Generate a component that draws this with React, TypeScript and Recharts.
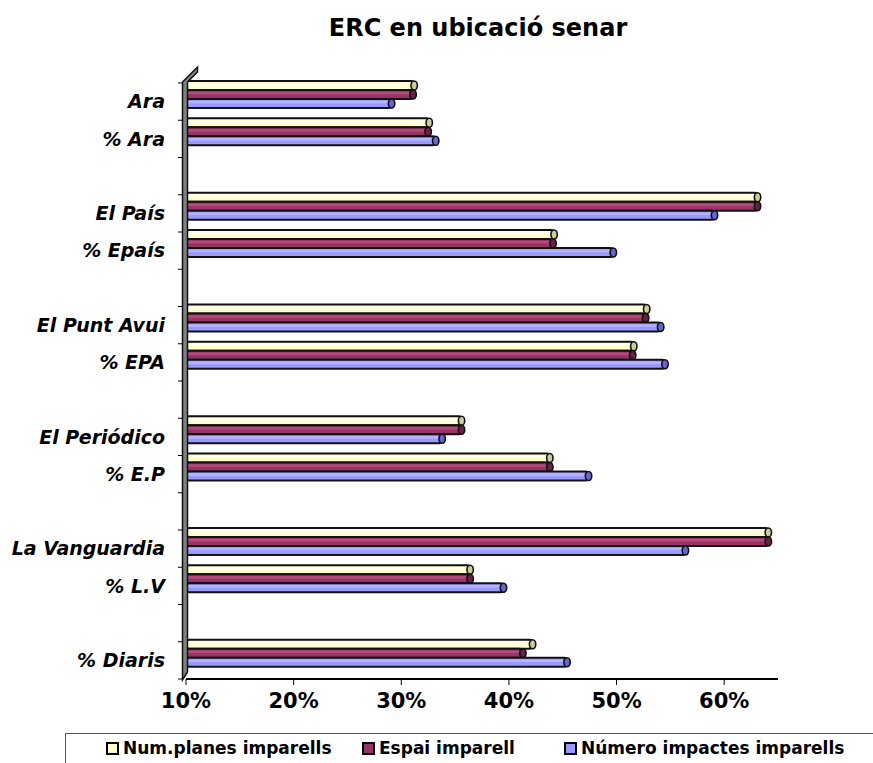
import { BarChart, Bar, XAxis, YAxis } from 'recharts';

const CATEGORIES = [
  'Ara', '% Ara', '',
  'El País', '% Epaís', '',
  'El Punt Avui', '% EPA', '',
  'El Periódico', '% E.P', '',
  'La Vanguardia', '% L.V', '',
  '% Diaris',
];

const NUM_PLANES = [31.2, 32.6, null, 63.1, 44.2, null, 52.8, 51.6, null, 35.6, 43.8, null, 64.1, 36.4, null, 42.2];
const ESPAI = [31.1, 32.5, null, 63.1, 44.1, null, 52.7, 51.5, null, 35.6, 43.8, null, 64.1, 36.4, null, 41.3];
const IMPACTES = [29.1, 33.2, null, 59.1, 49.7, null, 54.1, 54.5, null, 33.8, 47.4, null, 56.4, 39.5, null, 45.4];

const X_TICKS = [10, 20, 30, 40, 50, 60];

const SERIES = [
  { key: 'planes', name: 'Num.planes imparells', fill: '#FFFFCC', light: '#FFFFF2', dark: '#CCCC99', legendX: 40 },
  { key: 'espai', name: 'Espai imparell', fill: '#993366', light: '#B8557F', dark: '#662244', legendX: 296 },
  { key: 'impactes', name: 'Número impactes imparells', fill: '#9999FF', light: '#BBBBFF', dark: '#6666CC', legendX: 498 },
];

const FONT = 'Tahoma, "DejaVu Sans", sans-serif';
const W = 873;
const H = 763;
const M = { top: 83, right: 95, bottom: 34, left: 0 };
const X_AXIS_H = 50;
const Y_AXIS_W = 186;
const PLOT_H = H - M.top - M.bottom - X_AXIS_H;
const BAND = PLOT_H / CATEGORIES.length;

const data = CATEGORIES.map((name, i) => ({
  id: i,
  name,
  planes: NUM_PLANES[i],
  espai: ESPAI[i],
  impactes: IMPACTES[i],
}));

// tube-like bar with an end cap, lifted a bit like the 3D original
const TubeBar = (props: any) => {
  const { x, y, width, height, fill, light, dark } = props;
  if (!width || width <= 0) return null;
  const yy = y - 7;
  const r = height / 2;
  return (
    <g>
      <rect x={x} y={yy} width={width} height={height} rx={3} fill={fill} stroke="#111" strokeWidth={1.8} />
      <rect x={x + 2} y={yy + 1.8} width={Math.max(width - 6, 0)} height={height * 0.28} fill={light} opacity={0.8} />
      <ellipse cx={x + width} cy={yy + r} rx={3.2} ry={r} fill={dark} stroke="#111" strokeWidth={1.6} />
    </g>
  );
};

const CategoryTick = (props: any) => {
  const { x, y, payload } = props;
  const i = payload.value as number;
  const label = CATEGORIES[i];
  return (
    <g>
      <line x1={178} x2={183} y1={y - BAND / 2} y2={y - BAND / 2} stroke="#000" strokeWidth={1} />
      {i === CATEGORIES.length - 1 && (
        <line x1={178} x2={183} y1={y + BAND / 2} y2={y + BAND / 2} stroke="#000" strokeWidth={1} />
      )}
      <text
        x={x - 13}
        y={y}
        dy="0.35em"
        textAnchor="end"
        fontFamily={FONT}
        fontSize={19}
        fontWeight="bold"
        fontStyle="italic"
        fill="#000"
      >
        {label}
      </text>
    </g>
  );
};

export default function App() {
  return (
    <div style={{ position: 'absolute', left: 0, top: 0, width: W, height: H, background: '#fff', overflow: 'hidden' }}>
      <div
        style={{
          position: 'absolute',
          left: 228,
          top: 14,
          width: 500,
          textAlign: 'center',
          fontFamily: FONT,
          fontWeight: 'bold',
          fontSize: 24,
          color: '#000',
        }}
      >
        ERC en ubicació senar
      </div>

      <BarChart
        width={W}
        height={H}
        data={data}
        layout="vertical"
        margin={M}
        barSize={9}
        barGap={0}
      >
        <XAxis
          type="number"
          domain={[10, 65]}
          ticks={X_TICKS}
          allowDataOverflow
          height={X_AXIS_H}
          tickFormatter={(v) => `${v}%`}
          axisLine={{ stroke: '#000', strokeWidth: 2 }}
          tickLine={{ stroke: '#000' }}
          tickSize={6}
          tickMargin={8}
          tick={{ fontFamily: FONT, fontSize: 21, fontWeight: 'bold', fill: '#000' }}
        />
        <YAxis
          type="category"
          dataKey="id"
          width={Y_AXIS_W}
          axisLine={false}
          tickLine={false}
          interval={0}
          tick={<CategoryTick />}
        />
        {SERIES.map((s) => (
          <Bar
            key={s.key}
            dataKey={s.key}
            name={s.name}
            fill={s.fill}
            isAnimationActive={false}
            shape={(p: any) => <TubeBar {...p} light={s.light} dark={s.dark} />}
          />
        ))}
      </BarChart>

      {/* side wall and floor edge of the 3D plot */}
      <svg width={W} height={H} style={{ position: 'absolute', left: 0, top: 0, pointerEvents: 'none' }}>
        <polygon
          points="182.5,680 182.5,82 197.5,67 197.5,72 187.5,82 187.5,672"
          fill="#808080"
          stroke="#111"
          strokeWidth={1.5}
        />
      </svg>

      <div
        style={{
          position: 'absolute',
          left: 65,
          top: 733,
          width: 830,
          height: 40,
          border: '1px solid #555',
          boxSizing: 'border-box',
          fontFamily: FONT,
          fontWeight: 'bold',
          fontSize: 17,
          color: '#000',
        }}
      >
        {SERIES.map((s) => (
          <div
            key={s.key}
            style={{ position: 'absolute', left: s.legendX, top: 4, display: 'flex', alignItems: 'center', whiteSpace: 'nowrap' }}
          >
            <span
              style={{
                display: 'inline-block',
                width: 9,
                height: 9,
                background: s.fill,
                border: '2px solid #000',
                marginRight: 4,
              }}
            />
            {s.name}
          </div>
        ))}
      </div>
    </div>
  );
}
